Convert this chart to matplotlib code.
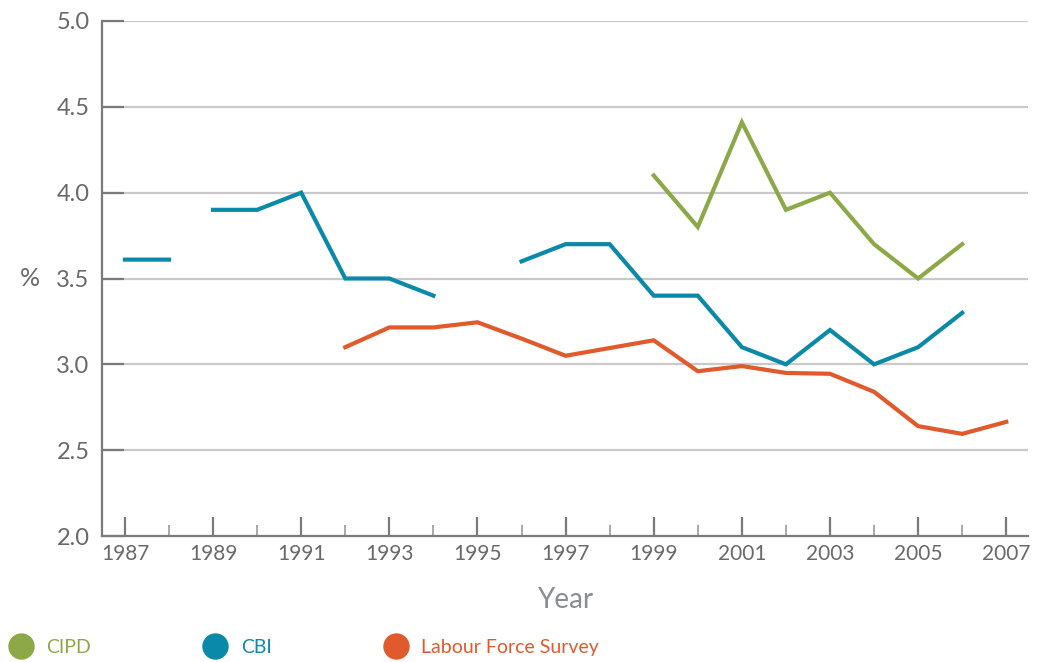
import numpy as np
import matplotlib
matplotlib.use("Agg")
import matplotlib.pyplot as plt
from matplotlib.lines import Line2D

plt.rcParams['font.family'] = ['Lato', 'DejaVu Sans']

# Absence rates (% of working time lost) by survey and year
cipd_years = [1999, 2000, 2001, 2002, 2003, 2004, 2005, 2006]
cipd_values = [4.1, 3.8, 4.41, 3.9, 4.0, 3.7, 3.5, 3.7]

# CBI series has gaps: a break follows the years listed in cbi_breaks
cbi_years = [1987, 1988, 1989, 1990, 1991, 1992, 1993, 1994,
             1996, 1997, 1998, 1999, 2000, 2001, 2002, 2003, 2004, 2005, 2006]
cbi_values = [3.61, 3.61, 3.9, 3.9, 4.0, 3.5, 3.5, 3.4,
              3.6, 3.7, 3.7, 3.4, 3.4, 3.1, 3.0, 3.2, 3.0, 3.1, 3.3]
cbi_breaks = [1988, 1994]

lfs_years = [1992, 1993, 1994, 1995, 1996, 1997, 1998, 1999, 2000,
             2001, 2002, 2003, 2004, 2005, 2006, 2007]
lfs_values = [3.10, 3.215, 3.215, 3.245, 3.15, 3.05, 3.095, 3.14, 2.96,
              2.99, 2.95, 2.945, 2.84, 2.64, 2.595, 2.665]

series_names = ['CIPD', 'CBI', 'Labour Force Survey']
colors = ['#8DA847', '#0A8AA8', '#E15A2C']

y_ticks = [2.0, 2.5, 3.0, 3.5, 4.0, 4.5, 5.0]
x_major = list(range(1987, 2008, 2))
x_minor = list(range(1988, 2008, 2))

text_gray = '#69696B'
axis_gray = '#7A7A7C'
grid_gray = '#C9C9CB'


def with_breaks(years, values, breaks):
    xs, ys = [], []
    for yr, v in zip(years, values):
        xs.append(yr)
        ys.append(v)
        if yr in breaks:
            xs.append(yr + 0.5)
            ys.append(np.nan)
    return xs, ys


fig = plt.figure(figsize=(10.37, 6.62), dpi=100)
ax = fig.add_axes([0.0984, 0.1903, 0.8932, 0.9683 - 0.1903])

ax.set_xlim(1986.48, 2007.5)
ax.set_ylim(2.0, 5.0)

# horizontal grid
for yv in y_ticks[1:]:
    ax.axhline(yv, color=grid_gray, lw=1.6, zorder=1)

ax.plot(cipd_years, cipd_values, color=colors[0], lw=3.0, zorder=3,
        solid_joinstyle='miter')
bx, by = with_breaks(cbi_years, cbi_values, cbi_breaks)
ax.plot(bx, by, color=colors[1], lw=3.0, zorder=3, solid_joinstyle='miter')
ax.plot(lfs_years, lfs_values, color=colors[2], lw=3.0, zorder=3,
        solid_joinstyle='miter')

for side in ['top', 'right']:
    ax.spines[side].set_visible(False)
for side in ['left', 'bottom']:
    ax.spines[side].set_color(axis_gray)
    ax.spines[side].set_linewidth(1.6)

ax.set_yticks(y_ticks)
ax.set_yticklabels([f'{v:.1f}' for v in y_ticks])
ax.tick_params(axis='y', direction='in', length=16, width=1.6, color=axis_gray,
               labelsize=17, labelcolor=text_gray, pad=9)

ax.set_xticks(x_major)
ax.set_xticklabels([str(y) for y in x_major])
ax.set_xticks(x_minor, minor=True)
ax.tick_params(axis='x', which='major', direction='in', length=14, width=1.6,
               color=axis_gray, labelsize=15, labelcolor=text_gray, pad=6)
ax.tick_params(axis='x', which='minor', direction='in', length=8, width=1.2,
               color='#9A9A9C')

ax.set_xlabel('Year', fontsize=20, color='#8A8E94', labelpad=16)
ax.set_ylabel('%', fontsize=18, color=text_gray, rotation=0, va='center')
ax.yaxis.set_label_coords(-0.078, 0.5)

handles = [Line2D([], [], marker='o', ls='none', markersize=18,
                  markerfacecolor=c, markeredgecolor=c) for c in colors]
leg = fig.legend(handles, series_names, ncol=3, frameon=False,
                 loc='center left', bbox_to_anchor=(-0.006, 0.022),
                 fontsize=14, handletextpad=0.3, columnspacing=5.4,
                 borderaxespad=0.0)
for txt, c in zip(leg.get_texts(), colors):
    txt.set_color(c)

fig.savefig('out.png', dpi=100)
